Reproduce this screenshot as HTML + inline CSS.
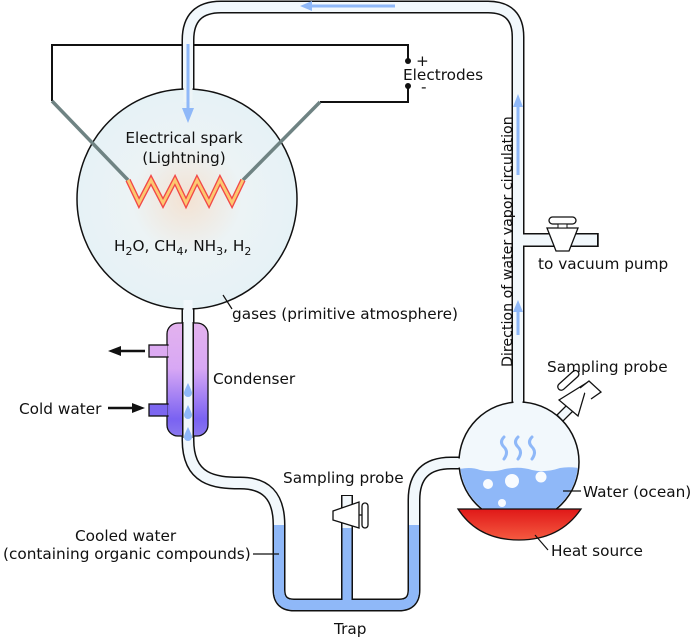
<!DOCTYPE html>
<html><head><meta charset="utf-8"><style>
html,body{margin:0;padding:0;background:#fff;}
svg{display:block;}
text{font-family:"DejaVu Sans","Liberation Sans",sans-serif;font-size:15.3px;fill:#111;}
</style></head><body>
<svg width="692" height="637" viewBox="0 0 692 637" xmlns="http://www.w3.org/2000/svg">
<defs>
<radialGradient id="fl" cx="0.5" cy="0.5" r="0.5">
<stop offset="0" stop-color="#f3e2d2"/><stop offset="0.5" stop-color="#ecf3f5"/><stop offset="1" stop-color="#e6f2f6"/>
</radialGradient>
<linearGradient id="cd" x1="0" y1="0" x2="0" y2="1">
<stop offset="0" stop-color="#e3b2ee"/><stop offset="0.4" stop-color="#d8a8f4"/><stop offset="0.85" stop-color="#7a62f2"/><stop offset="1" stop-color="#8a78ee"/>
</linearGradient>
<linearGradient id="ht" x1="0" y1="0" x2="0" y2="1">
<stop offset="0" stop-color="#e01818"/><stop offset="1" stop-color="#f55a40"/>
</linearGradient>
</defs>

<polyline points="52,101 52,45 408,45 408,61" fill="none" stroke="#111" stroke-width="2"/>
<polyline points="408,86 408,102 320,102" fill="none" stroke="#111" stroke-width="2"/>
<circle cx="408" cy="61" r="3" fill="#111"/>
<circle cx="408" cy="86" r="3" fill="#111"/>

<g fill="none" stroke-linejoin="round">
<path d="M188,120 L188,40 Q188,7 221,7 L488,7 Q518,7 518,37 L518,420" stroke="#111" stroke-width="13"/>
<path d="M518,240 L598,240" stroke="#111" stroke-width="14"/>
<path d="M188,300 L188,440 C188,480 215,483 240,483 C265,483 279,495 279,525 L279,590 Q279,605 294,605 L399,605 Q414,605 414,590 L414,500 Q414,463 451,463 L480,463" stroke="#111" stroke-width="13"/>
<path d="M347,495 L347,605" stroke="#111" stroke-width="12"/>
<path d="M188,120 L188,40 Q188,7 221,7 L488,7 Q518,7 518,37 L518,420" stroke="#f2f8fc" stroke-width="10"/>
<path d="M518,240 L597,240" stroke="#f2f8fc" stroke-width="11"/>
<path d="M188,300 L188,440 C188,480 215,483 240,483 C265,483 279,495 279,525 L279,590 Q279,605 294,605 L399,605 Q414,605 414,590 L414,500 Q414,463 451,463 L480,463" stroke="#f2f8fc" stroke-width="10"/>
<path d="M347,496 L347,605" stroke="#f2f8fc" stroke-width="9"/>
<path d="M279,525 L279,590 Q279,605 294,605 L399,605 Q414,605 414,590 L414,525" stroke="#8fb8f8" stroke-width="10"/>
<path d="M347,528 L347,605" stroke="#8fb8f8" stroke-width="9"/>
</g>
<line x1="598" y1="233" x2="598" y2="247" stroke="#111" stroke-width="1.5"/>

<circle cx="187" cy="199" r="110" fill="url(#fl)" stroke="#111" stroke-width="1.5"/>
<rect x="183.5" y="80" width="9" height="22" fill="#eef5f7"/>
<rect x="183.5" y="300" width="9" height="20" fill="#f2f8fc"/>

<line x1="52" y1="101" x2="128" y2="180" stroke="#6f8383" stroke-width="3.5"/>
<line x1="320" y1="102" x2="243" y2="180" stroke="#6f8383" stroke-width="3.5"/>
<polyline points="128,180 139,203 151,180 163,203 175,180 186,203 197,180 209,203 220,180 232,203 243,180" fill="none" stroke="#f24848" stroke-width="5.5"/>
<polyline points="128,180 139,203 151,180 163,203 175,180 186,203 197,180 209,203 220,180 232,203 243,180" fill="none" stroke="#fcc870" stroke-width="2.8"/>

<rect x="167" y="323" width="41" height="113" rx="11" fill="url(#cd)" stroke="#111" stroke-width="1.3"/>
<rect x="149" y="345" width="19" height="12" fill="#dcaaf2" stroke="#111" stroke-width="1.3"/>
<rect x="149" y="404" width="19" height="12" fill="#7c66f0" stroke="#111" stroke-width="1.3"/>
<rect x="167.7" y="345.7" width="2" height="10.6" fill="#dcaaf2"/>
<rect x="167.7" y="404.7" width="2" height="10.6" fill="#7c66f0"/>
<rect x="182" y="322" width="12" height="116" fill="#111"/>
<rect x="183.5" y="320" width="9" height="120" fill="#f2f8fc"/>
<g fill="#8fb8f8">
<path d="M188,383 Q184,391 184,393 A4,4 0 0 0 192,393 Q192,391 188,383Z"/>
<path d="M188,405 Q184,413 184,415 A4,4 0 0 0 192,415 Q192,413 188,405Z"/>
<path d="M188,427 Q184,435 184,437 A4,4 0 0 0 192,437 Q192,435 188,427Z"/>
</g>
<line x1="145" y1="351" x2="120" y2="351" stroke="#111" stroke-width="2.5"/>
<polygon points="108,351 121,346 121,356" fill="#111"/>
<line x1="108" y1="408" x2="134" y2="408" stroke="#111" stroke-width="2.5"/>
<polygon points="145,408 132,403 132,413" fill="#111"/>

<circle cx="519" cy="462" r="60" fill="#f2f8fc" stroke="#111" stroke-width="1.5"/>
<rect x="513.5" y="395" width="9" height="10" fill="#f2f8fc"/>
<rect x="455" y="458.5" width="9" height="9" fill="#f2f8fc"/>
<clipPath id="cf"><circle cx="519" cy="462" r="59"/></clipPath>
<path clip-path="url(#cf)" d="M455,470 Q470,466 480,470 Q492,473 505,469 Q520,466 532,470 Q545,473 560,468 Q570,466 585,469 L585,530 L455,530Z" fill="#8fb8f8"/>
<g fill="#f8fbff">
<circle cx="488" cy="484" r="5"/><circle cx="512" cy="481" r="7"/><circle cx="541" cy="477" r="5.5"/><circle cx="502" cy="503" r="4"/><circle cx="518" cy="514" r="2.5"/>
</g>
<g fill="none" stroke="#8fb8f8" stroke-width="3" stroke-linecap="round">
<path d="M504,437 Q499,442 504,447 Q509,452 504,459"/>
<path d="M518,437 Q513,442 518,447 Q523,452 518,459"/>
<path d="M532,437 Q527,442 532,447 Q537,452 532,459"/>
</g>
<path d="M557,415 L567,405 L573,411 L563,421Z" fill="#f2f8fc" stroke="#111" stroke-width="1.3"/>
<path d="M559,400 L588,382 L578,416Z" fill="#fff" stroke="#111" stroke-width="1.3"/>
<path d="M580,388 L589,381 L601,392 L591,399" fill="#fff" stroke="#111" stroke-width="1.3"/>
<rect x="555" y="377" width="26" height="7" rx="3.5" transform="rotate(-42 568 380)" fill="#fff" stroke="#111" stroke-width="1.3"/>

<path d="M458,509 L581,509 Q560,540 519,540 Q478,540 458,509Z" fill="url(#ht)" stroke="#111" stroke-width="1.3"/>

<path d="M333,511 L359,502 L359,528 L333,520Z" fill="#fff" stroke="#111" stroke-width="1.3"/>
<rect x="362" y="503" width="6" height="25" rx="3" fill="#fff" stroke="#111" stroke-width="1.3"/>
<line x1="359" y1="515" x2="362" y2="515" stroke="#111" stroke-width="1.3"/>

<path d="M547,228 L578,228 L569,251 L556,251Z" fill="#fff" stroke="#111" stroke-width="1.3"/>
<rect x="549" y="217" width="27" height="7" rx="3.5" fill="#fff" stroke="#111" stroke-width="1.3"/>
<rect x="558" y="224" width="9" height="4" fill="#fff" stroke="#111" stroke-width="1"/>

<g stroke="#8fb8f8" stroke-width="3" fill="#8fb8f8">
<line x1="188" y1="44" x2="188" y2="110"/><polygon points="182,108 194,108 188,123" stroke="none"/>
<line x1="395" y1="6" x2="310" y2="6"/><polygon points="312,1 312,11 300,6" stroke="none"/>
<line x1="518" y1="175" x2="518" y2="105"/><polygon points="513,107 523,107 518,94" stroke="none"/>
<line x1="518" y1="335" x2="518" y2="310"/><polygon points="513,312 523,312 518,300" stroke="none"/>
</g>

<g stroke="#111" stroke-width="1.2">
<line x1="223" y1="295" x2="232" y2="309"/>
<line x1="253" y1="554" x2="279" y2="554"/>
<line x1="563" y1="491" x2="581" y2="491"/>
<line x1="535" y1="535" x2="548" y2="550"/>
</g>

<text x="184" y="143" text-anchor="middle">Electrical spark</text>
<text x="184" y="163" text-anchor="middle">(Lightning)</text>
<text x="114" y="251">H<tspan font-size="11" dy="4">2</tspan><tspan dy="-4">O, CH</tspan><tspan font-size="11" dy="4">4</tspan><tspan dy="-4">, NH</tspan><tspan font-size="11" dy="4">3</tspan><tspan dy="-4">, H</tspan><tspan font-size="11" dy="4">2</tspan></text>
<text x="232" y="319">gases (primitive atmosphere)</text>
<text x="213" y="384">Condenser</text>
<text x="19" y="414">Cold water</text>
<text x="283" y="483">Sampling probe</text>
<text x="75" y="541">Cooled water</text>
<text x="3" y="559">(containing organic compounds)</text>
<text x="334" y="634">Trap</text>
<text x="403" y="80">Electrodes</text>
<text x="416" y="66">+</text>
<text x="421" y="92">-</text>
<text x="538" y="269">to vacuum pump</text>
<text x="547" y="372">Sampling probe</text>
<text x="583" y="497">Water (ocean)</text>
<text x="551" y="556">Heat source</text>
<text transform="translate(512,367) rotate(-90)" style="font-size:14.2px">Direction of water vapor circulation</text>
</svg>
</body></html>
